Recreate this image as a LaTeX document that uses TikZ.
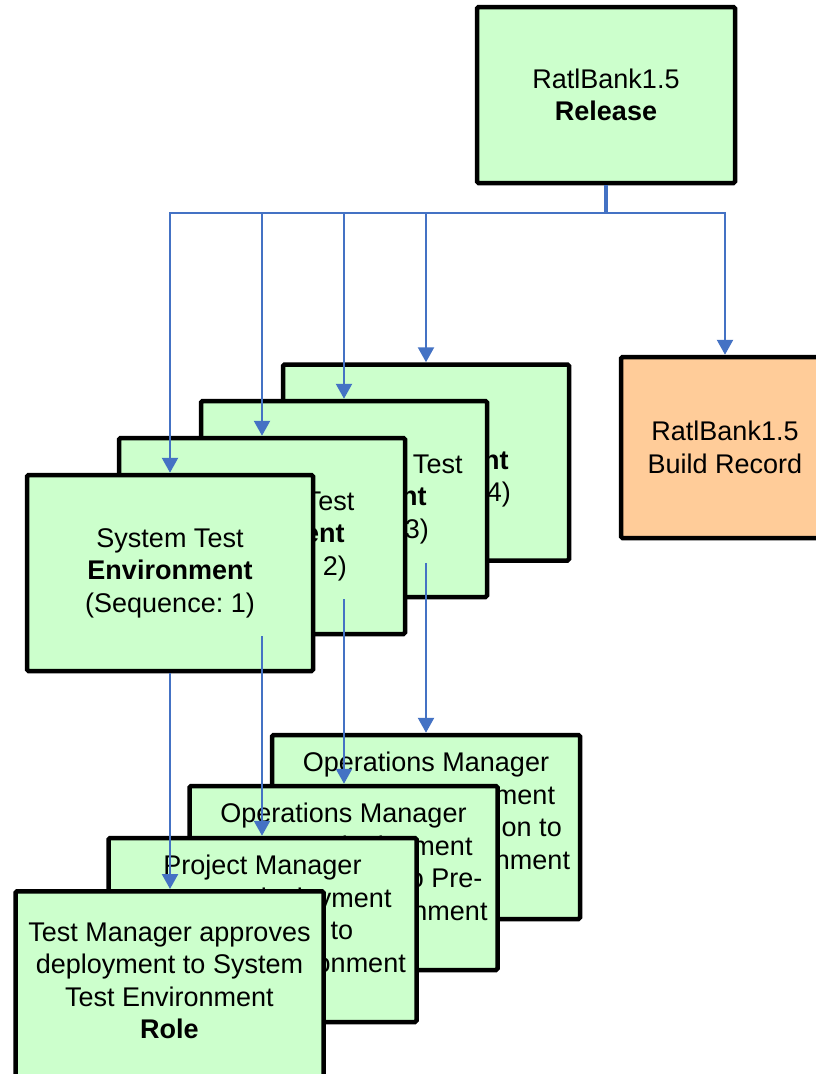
\documentclass[tikz,border=0pt]{standalone}
\usepackage{fontspec}
\setmainfont{Liberation Sans}
\usetikzlibrary{arrows.meta}
\definecolor{boxgreen}{HTML}{CCFFCC}
\definecolor{boxorange}{HTML}{FFCC99}
\definecolor{linkblue}{HTML}{4472C4}
\frenchspacing
\begin{document}
\begin{tikzpicture}[x=1pt,y=-1pt,
  box/.style={draw=black, line width=4.5pt, rounded corners=1.5pt, align=center, inner sep=0pt, font=\fontsize{27}{32.5}\selectfont},
  envbox/.style={box, fill=boxgreen, minimum width=286pt, minimum height=196pt},
  rolebox/.style={box, fill=boxgreen, minimum width=308pt, minimum height=184pt},
  txt/.style={align=center, inner sep=0pt, font=\fontsize{27}{32.5}\selectfont},
  link/.style={draw=linkblue, line width=2.4pt, -{Triangle[width=16pt,length=15pt]}},
  stem/.style={draw=linkblue, line width=3.2pt},
]
\clip (0,0) rectangle (816,1074);
\fill[white] (0,0) rectangle (816,1074);

% top boxes
\node[box, fill=boxgreen, minimum width=258pt, minimum height=176pt] (rel) at (606,95) {RatlBank1.5\\\textbf{Release}};
\node[box, fill=boxorange, minimum width=208pt, minimum height=181pt] (build) at (725,447.5) {RatlBank1.5\\Build Record};

% environment boxes (back to front)
\node[envbox] (env4) at (426,462.5) {Production\\\textbf{Environment}\\(Sequence: 4)};
\node[envbox] (env3) at (344,499) {Pre-Production Test\\\textbf{Environment}\\(Sequence: 3)};
\node[envbox] (env2) at (262,536) {Integration Test\\\textbf{Environment}\\(Sequence: 2)};
\node[envbox] (env1) at (170,573) {System Test\\\textbf{Environment}\\(Sequence: 1)};

% role boxes (back to front)
\node[rolebox] (ops2) at (426,827) {Operations Manager\\approves deployment\\from Pre-Production to\\Production Environment\\\textbf{Role}};
\node[rolebox] (ops1) at (343.5,878) {Operations Manager\\approves deployment\\from Integration to Pre-\\Production Environment\\\textbf{Role}};
\node[rolebox] (pm) at (262.5,930) {Project Manager\\approves deployment\\from System to\\Integration Environment\\\textbf{Role}};
\node[rolebox, minimum height=200pt, anchor=north] (tm) at (169.5,889) {};
\node[txt] (tmtext) at (169.5,981) {Test Manager approves\\deployment to System\\Test Environment\\\textbf{Role}};

% connectors
\coordinate (bus) at (606,213);
\draw[stem] (rel.south) -- (bus);
\draw[link] (bus) -| (env1.north);
\draw[link] (bus) -| (env2.north);
\draw[link] (bus) -| (env3.north);
\draw[link] (bus) -| (env4.north);
\draw[link] (bus) -| (build.north);

\draw[link] (env1.south) -- (env1.south |- tm.north);
\draw[link] (env2.south) -- (env2.south |- pm.north);
\draw[link] (env3.south) -- (env3.south |- ops1.north);
\draw[link] (env4.south) -- (env4.south |- ops2.north);
\end{tikzpicture}
\end{document}
